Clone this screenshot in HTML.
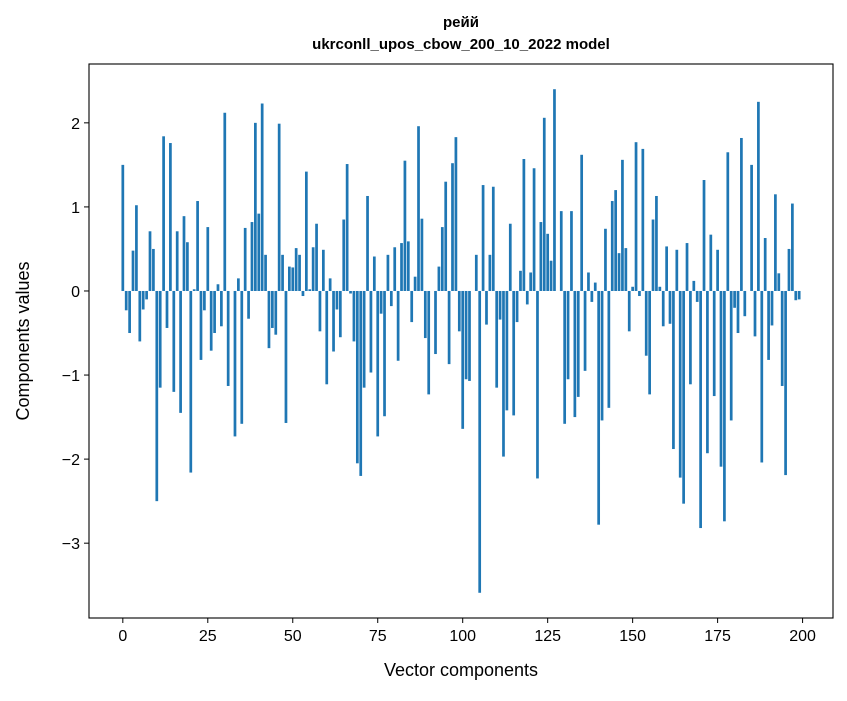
<!DOCTYPE html>
<html><head><meta charset="utf-8"><style>
body{margin:0;background:#fff;}
svg text{font-family:"Liberation Sans","DejaVu Sans",sans-serif;}
</style></head><body>
<svg id="chart" width="847" height="696" xmlns="http://www.w3.org/2000/svg">
<rect width="847" height="696" fill="#fff"/>
<text x="461" y="27" text-anchor="middle" font-size="15" font-weight="bold">рейй</text>
<text x="461" y="49" text-anchor="middle" font-size="15" font-weight="bold">ukrconll_upos_cbow_200_10_2022 model</text>
<g id="bars"></g>
<g id="axes"></g>
<text x="461" y="676" text-anchor="middle" font-size="18">Vector components</text>
<text x="0" y="0" transform="translate(29,341) rotate(-90)" text-anchor="middle" font-size="18">Components values</text>
</svg>
<script>
const values=[1.5,-0.23,-0.5,0.48,1.02,-0.6,-0.22,-0.1,0.71,0.5,-2.5,-1.15,1.84,-0.44,1.76,-1.2,0.71,-1.45,0.89,0.58,-2.16,0.02,1.07,-0.82,-0.23,0.76,-0.71,-0.5,0.08,-0.42,2.12,-1.13,0.0,-1.73,0.15,-1.58,0.75,-0.33,0.82,2.0,0.92,2.23,0.43,-0.68,-0.44,-0.52,1.99,0.43,-1.57,0.29,0.28,0.51,0.43,-0.06,1.42,0.02,0.52,0.8,-0.48,0.49,-1.11,0.15,-0.72,-0.22,-0.55,0.85,1.51,-0.03,-0.6,-2.05,-2.2,-1.15,1.13,-0.97,0.41,-1.73,-0.27,-1.49,0.43,-0.18,0.52,-0.83,0.57,1.55,0.59,-0.37,0.17,1.96,0.86,-0.56,-1.23,0.0,-0.75,0.29,0.76,1.3,-0.87,1.52,1.83,-0.48,-1.64,-1.05,-1.07,0.0,0.43,-3.59,1.26,-0.4,0.43,1.24,-1.15,-0.34,-1.97,-1.42,0.8,-1.48,-0.37,0.24,1.57,-0.16,0.22,1.46,-2.23,0.82,2.06,0.68,0.36,2.4,0.0,0.95,-1.58,-1.05,0.95,-1.5,-1.26,1.62,-0.95,0.22,-0.13,0.1,-2.78,-1.54,0.74,-1.39,1.07,1.2,0.45,1.56,0.51,-0.48,0.05,1.77,-0.06,1.69,-0.77,-1.23,0.85,1.13,0.05,-0.42,0.53,-0.39,-1.88,0.49,-2.22,-2.53,0.57,-1.11,0.12,-0.13,-2.82,1.32,-1.93,0.67,-1.25,0.49,-2.09,-2.74,1.65,-1.54,-0.2,-0.5,1.82,-0.3,0.0,1.5,-0.54,2.25,-2.04,0.63,-0.82,-0.41,1.15,0.21,-1.13,-2.19,0.5,1.04,-0.11,-0.1];
const xTicks=[0,25,50,75,100,125,150,175,200];
const yTicks=[-3,-2,-1,0,1,2];
const L=89,R=833,T=64,B=618;
const xMin=-9.95,xMax=208.95,yMin=-3.89,yMax=2.70;
const xs=v=>L+(v-xMin)/(xMax-xMin)*(R-L);
const ys=v=>T+(yMax-v)/(yMax-yMin)*(B-T);
const NS="http://www.w3.org/2000/svg";
const bars=document.getElementById('bars');
values.forEach((v,i)=>{
  const r=document.createElementNS(NS,'rect');
  const x0=xs(i-0.4),x1=xs(i+0.4);
  const y0=ys(Math.max(v,0)),y1=ys(Math.min(v,0));
  r.setAttribute('x',x0);r.setAttribute('width',x1-x0);
  r.setAttribute('y',y0);r.setAttribute('height',Math.max(y1-y0,0.01));
  r.setAttribute('fill','#1f77b4');
  
  
  bars.appendChild(r);
});
const ax=document.getElementById('axes');
const frame=document.createElementNS(NS,'rect');
frame.setAttribute('x',L);frame.setAttribute('y',T);frame.setAttribute('width',R-L);frame.setAttribute('height',B-T);
frame.setAttribute('fill','none');frame.setAttribute('stroke','#000');frame.setAttribute('stroke-width','1.1');


ax.appendChild(frame);
xTicks.forEach(t=>{
  const x=xs(t);
  const l=document.createElementNS(NS,'line');
  l.setAttribute('x1',x);l.setAttribute('x2',x);l.setAttribute('y1',B);l.setAttribute('y2',B+5);l.setAttribute('stroke','#000');
  
  
  ax.appendChild(l);
  const tx=document.createElementNS(NS,'text');
  tx.setAttribute('x',x);tx.setAttribute('y',B+23);tx.setAttribute('text-anchor','middle');tx.setAttribute('font-size','16');
  tx.textContent=t;
  
  
  ax.appendChild(tx);
});
yTicks.forEach(t=>{
  const y=ys(t);
  const l=document.createElementNS(NS,'line');
  l.setAttribute('x1',L-5);l.setAttribute('x2',L);l.setAttribute('y1',y);l.setAttribute('y2',y);l.setAttribute('stroke','#000');
  
  
  ax.appendChild(l);
  const tx=document.createElementNS(NS,'text');
  tx.setAttribute('x',L-9);tx.setAttribute('y',y+6);tx.setAttribute('text-anchor','end');tx.setAttribute('font-size','16');
  tx.textContent=t<0?'\u2212'+Math.abs(t):String(t);
  
  
  ax.appendChild(tx);
});
</script>
</body></html>
